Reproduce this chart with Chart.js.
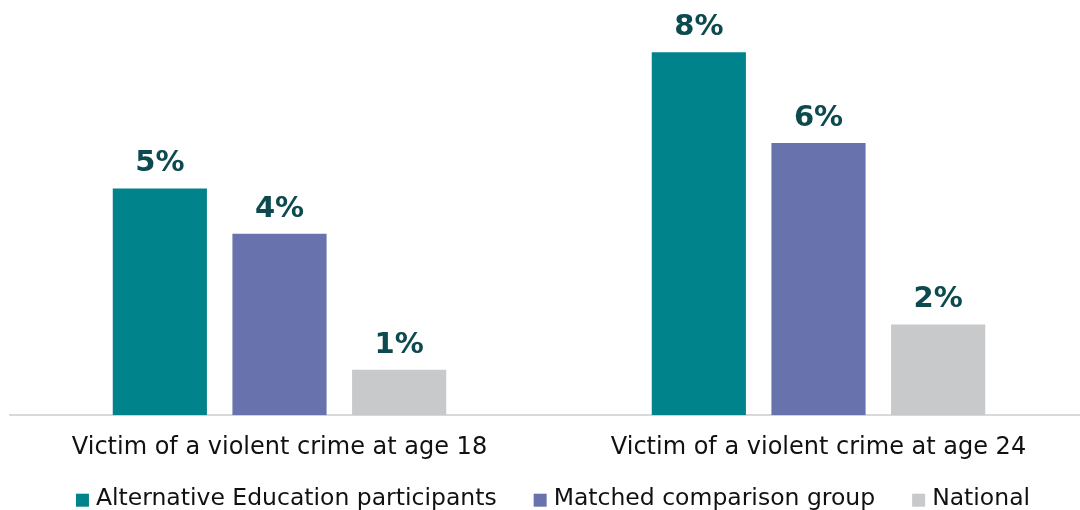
<!DOCTYPE html>
<html>
<head>
<meta charset="utf-8">
<script src="https://cdn.jsdelivr.net/npm/chart.js@4.4.1/dist/chart.umd.min.js"></script>
<style>
  html, body { margin: 0; padding: 0; background: #ffffff; overflow: hidden; }
  #wrap { width: 1088px; height: 510px; }
</style>
</head>
<body>
<div id="wrap"><canvas id="chart" width="1088" height="510"></canvas></div>
<script>
// Share of young people who were victims of a violent crime (%)
const categories = ['Victim of a violent crime at age 18', 'Victim of a violent crime at age 24'];
const seriesNames = ['Alternative Education participants', 'Matched comparison group', 'National'];
const altEducation = [5, 8];
const matchedGroup = [4, 6];
const national = [1, 2];

const colors = ['#00838A', '#6873AE', '#C8C9CB'];
const FONT = '"DejaVu Sans", Verdana, sans-serif';

// Percentage printed above each bar
const valueLabels = {
  id: 'valueLabels',
  afterDatasetsDraw(chart) {
    const ctx = chart.ctx;
    ctx.save();
    ctx.font = 'bold 29px ' + FONT;
    ctx.fillStyle = '#0D4A4F';
    ctx.textAlign = 'center';
    ctx.textBaseline = 'alphabetic';
    chart.data.datasets.forEach((ds, i) => {
      chart.getDatasetMeta(i).data.forEach((bar, j) => {
        ctx.fillText(Math.round(ds.data[j]) + '%', bar.x, bar.y - 17);
      });
    });
    ctx.restore();
  }
};

// Single-row legend under the axis labels
const bottomLegend = {
  id: 'bottomLegend',
  afterDraw(chart) {
    const ctx = chart.ctx;
    const box = 13, textGap = 7, itemGap = 37, centerX = 553;
    const y = chart.chartArea.bottom + 84;
    ctx.save();
    ctx.font = '23.5px ' + FONT;
    ctx.textBaseline = 'middle';
    ctx.textAlign = 'left';
    const items = chart.data.datasets.map(ds => ({
      text: ds.label, color: ds.backgroundColor, w: ctx.measureText(ds.label).width
    }));
    const total = items.reduce((s, it) => s + box + textGap + it.w, 0) + itemGap * (items.length - 1);
    let x = centerX - total / 2;
    items.forEach(it => {
      ctx.fillStyle = it.color;
      ctx.fillRect(x, y - box / 2 + 1, box, box);
      ctx.fillStyle = '#111111';
      ctx.fillText(it.text, x + box + textGap, y);
      x += box + textGap + it.w + itemGap;
    });
    ctx.restore();
  }
};

new Chart(document.getElementById('chart'), {
  type: 'bar',
  data: {
    labels: categories,
    datasets: [
      { label: seriesNames[0], data: altEducation, backgroundColor: colors[0] },
      { label: seriesNames[1], data: matchedGroup, backgroundColor: colors[1] },
      { label: seriesNames[2], data: national, backgroundColor: colors[2] }
    ]
  },
  options: {
    responsive: false,
    animation: false,
    devicePixelRatio: 1,
    categoryPercentage: 0.666,
    barPercentage: 0.787,
    layout: { padding: { top: 7, left: 10, right: 0, bottom: 30 } },
    scales: {
      x: {
        grid: { display: false, drawTicks: false },
        border: { display: true, color: '#D9D9D9', width: 2 },
        ticks: {
          color: '#111111',
          font: { family: FONT, size: 24 },
          padding: 18
        }
      },
      y: {
        display: false,
        min: 0,
        max: 9
      }
    },
    plugins: {
      legend: { display: false },
      tooltip: { enabled: false }
    }
  },
  plugins: [valueLabels, bottomLegend]
});
</script>
</body>
</html>
